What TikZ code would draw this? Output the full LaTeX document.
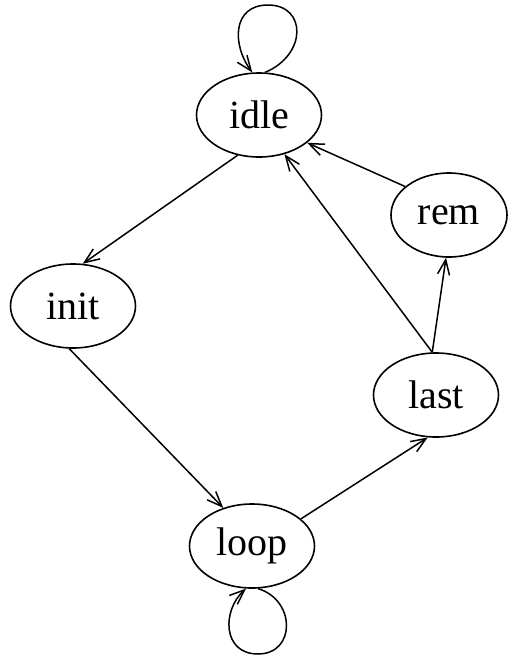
\documentclass[tikz,border=0pt]{standalone}
\usepackage{fontspec}
\setmainfont{Liberation Serif}
\usetikzlibrary{shapes.geometric,arrows.meta}
\begin{document}
\begin{tikzpicture}[x=1pt,y=-1pt,
  state/.style={ellipse,draw,line width=1.6pt,minimum width=125pt,minimum height=84pt,inner sep=0pt,
    font=\fontsize{40}{48}\selectfont},
  edge/.style={line width=1.5pt,-{Straight Barb[length=15pt,width=12pt,line width=1.5pt]}}]
\useasboundingbox (0,0) rectangle (509,657);
\node[state] (idle) at (259,115) {idle};
\node[state] (init) at (73,306) {init};
\node[state,minimum width=116pt] (rem) at (449,215) {rem};
\node[state] (last) at (436,395) {last};
\node[state] (loop) at (252,546) {loop};
\coordinate (itop) at (268,5);
\coordinate (lbot) at (258,654);
\draw[edge] (idle.242) -- (init.77);
\draw[edge] (init.265) -- (loop.127);
\draw[edge] (loop.29) -- (last.259);
\draw[edge] (last.95) -- (rem.266);
\draw[edge] (last.95) -- (idle.303);
\draw[edge] (rem.147) -- (idle.330);
\draw[edge] (idle.82) .. controls (307,55) and (307,5) .. (itop)
  .. controls (232,5) and (232,45) .. (idle.99);
\draw[edge] (loop.278) .. controls (296,600) and (296,654) .. (lbot)
  .. controls (222,654) and (222,610) .. (loop.262);
\end{tikzpicture}
\end{document}
